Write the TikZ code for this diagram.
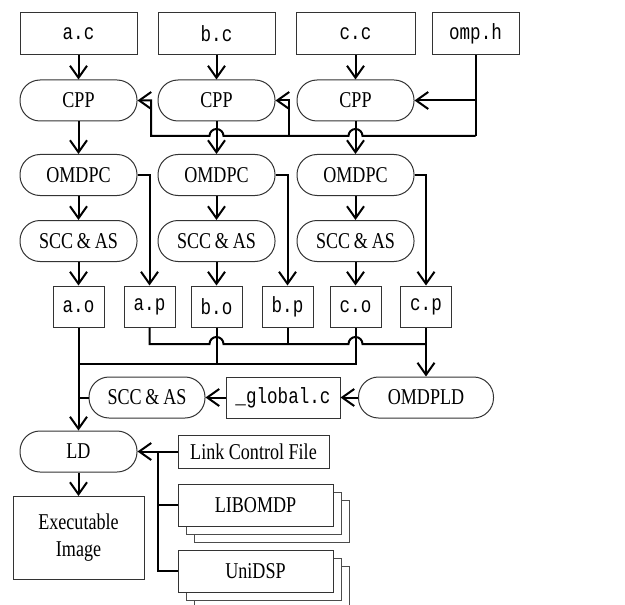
\documentclass[tikz,border=0pt]{standalone}
\usepackage{fontspec}
\setmainfont{Liberation Serif}[FakeStretch=0.8]
\setmonofont{Liberation Mono}[FakeStretch=0.8]
\usetikzlibrary{arrows.meta,calc}

\begin{document}
\begin{tikzpicture}[
  x=0.5pt, y=-0.5pt,
  every node/.style={font=\fontsize{11.3}{13.5}\selectfont},
  file/.style={draw=black!80, line width=0.5pt, fill=white, minimum height=21pt, inner sep=1pt,
               font=\fontsize{11}{13}\selectfont\ttfamily},
  tool/.style={draw=black!80, line width=0.5pt, rounded corners=10pt,
               minimum width=58.5pt, minimum height=20.5pt, inner sep=1pt},
  obj/.style={file, minimum width=25.5pt, minimum height=20.5pt},
  lib/.style={draw=black!80, line width=0.5pt, fill=white, minimum width=77.5pt, minimum height=21pt},
  arr/.style={-{Straight Barb[length=6pt,width=8.5pt]}, line width=1pt},
  wire/.style={line width=1pt},
]
\useasboundingbox (0,0) rectangle (625,604);
\clip (0,0) rectangle (625,604);
% sources
\node[file, minimum width=58.5pt] (srca) at (78.5,34)  {a.c};
\node[file, minimum width=58.5pt] (srcb) at (216.5,34) {b.c};
\node[file, minimum width=59.5pt] (srcc) at (355.5,34) {c.c};
\node[file, minimum width=43.5pt] (omph) at (475.5,34) {omp.h};
% per-file tools
\node[tool] (cppa) at (78.5,100.5)  {CPP};
\node[tool] (cppb) at (216.5,100.5) {CPP};
\node[tool] (cppc) at (355.5,100.5) {CPP};
\node[tool] (omda) at (78.5,175)  {OMDPC};
\node[tool] (omdb) at (216.5,175) {OMDPC};
\node[tool] (omdc) at (355.5,175) {OMDPC};
\node[tool] (scca) at (78.5,241)  {SCC\,\&\,AS};
\node[tool] (sccb) at (216.5,241) {SCC\,\&\,AS};
\node[tool] (sccc) at (355.5,241) {SCC\,\&\,AS};
\node[obj] (oa) at (78.5,306.5)  {a.o};
\node[obj] (pa) at (149.5,306.5) {a.p};
\node[obj] (ob) at (216.5,306.5) {b.o};
\node[obj] (pb) at (287.5,306.5) {b.p};
\node[obj] (oc) at (355.5,306.5) {c.o};
\node[obj] (pc) at (426,306.5)   {c.p};
% link stage
\node[tool, minimum width=58pt] (sccg) at (147,397.5) {SCC\,\&\,AS};
\node[file, minimum width=57pt, minimum height=20.5pt] (glob) at (283,397.5) {\_global.c};
\node[tool, minimum width=67.5pt] (omdpld) at (426,397.5) {OMDPLD};
\node[tool] (ld) at (78.5,451.5) {LD};
\node[draw=black!80, line width=0.5pt, minimum width=65.5pt, minimum height=41.5pt, align=center] (exe) at (78.5,538) {Executable\\Image};
\node[lib, minimum width=75.5pt, minimum height=16.5pt] (lcf) at (253.5,451.5) {Link Control File};
\foreach \s in {16,8} {
  \node[lib, draw=black!70] (libs\s) at (255.5+\s,505+\s) {};
  \node[lib, draw=black!70] (unis\s) at (255.5+\s,571+\s) {};
}
\node[lib] (libomdp) at (255.5,505) {LIBOMDP};
\node[lib] (unidsp) at (255.5,571) {UniDSP};

\coordinate (hub) at (475.5,136);
\coordinate (busa) at (151,136);
\coordinate (busb) at (289,136);
\coordinate (pbus) at (0,344);
\coordinate (obus) at (0,364);
\coordinate (tap) at (158,451.5);

\foreach \c in {a,b,c} {
  \draw[arr] (src\c) -- (cpp\c);
  \draw[arr] (cpp\c) -- (omd\c);
  \draw[arr] (omd\c) -- (scc\c);
  \draw[arr] (scc\c) -- (o\c);
  \draw[arr] (omd\c.east) -| (p\c.north);
}
% omp.h to every CPP
\draw[arr] (omph.south) |- (cppc.east);
\draw[wire] (omph.south) -- (hub);
\draw[arr] (hub) -- ($(cppc.south |- hub)+(3.5pt,0)$) arc[start angle=0, end angle=180, radius=3.5pt]
  -- ($(cppb.south |- hub)+(3.5pt,0)$) arc[start angle=0, end angle=180, radius=3.5pt]
  -- (busa) |- (cppa.east);
\draw[arr] (busb) |- (cppb.east);
% .p files to OMDPLD
\draw[wire] (pa.south) |- ($(ob.south |- pbus)-(3.5pt,0)$) arc[start angle=180, end angle=0, radius=3.5pt]
  -- ($(oc.south |- pbus)-(3.5pt,0)$) arc[start angle=180, end angle=0, radius=3.5pt]
  -- (pc.south |- pbus);
\draw[wire] (pb.south) -- (pb.south |- pbus);
\draw[arr] (pc.south) -- (omdpld.north);
% .o files to LD
\draw[wire] (ob.south) |- (oa.south |- obus);
\draw[wire] (oc.south) |- (ob.south |- obus);
\draw[arr] (oa.south) -- (ld.north);
\draw[arr] (omdpld) -- (glob);
\draw[arr] (glob) -- (sccg);
\draw[wire] (sccg.west) -- (sccg.west -| oa.south);
\draw[arr] (ld) -- (exe);
\draw[arr] (lcf) -- (ld);
\draw[wire] (tap) |- (unidsp.west);
\draw[wire] (tap |- libomdp.west) -- (libomdp.west);
\end{tikzpicture}
\end{document}
